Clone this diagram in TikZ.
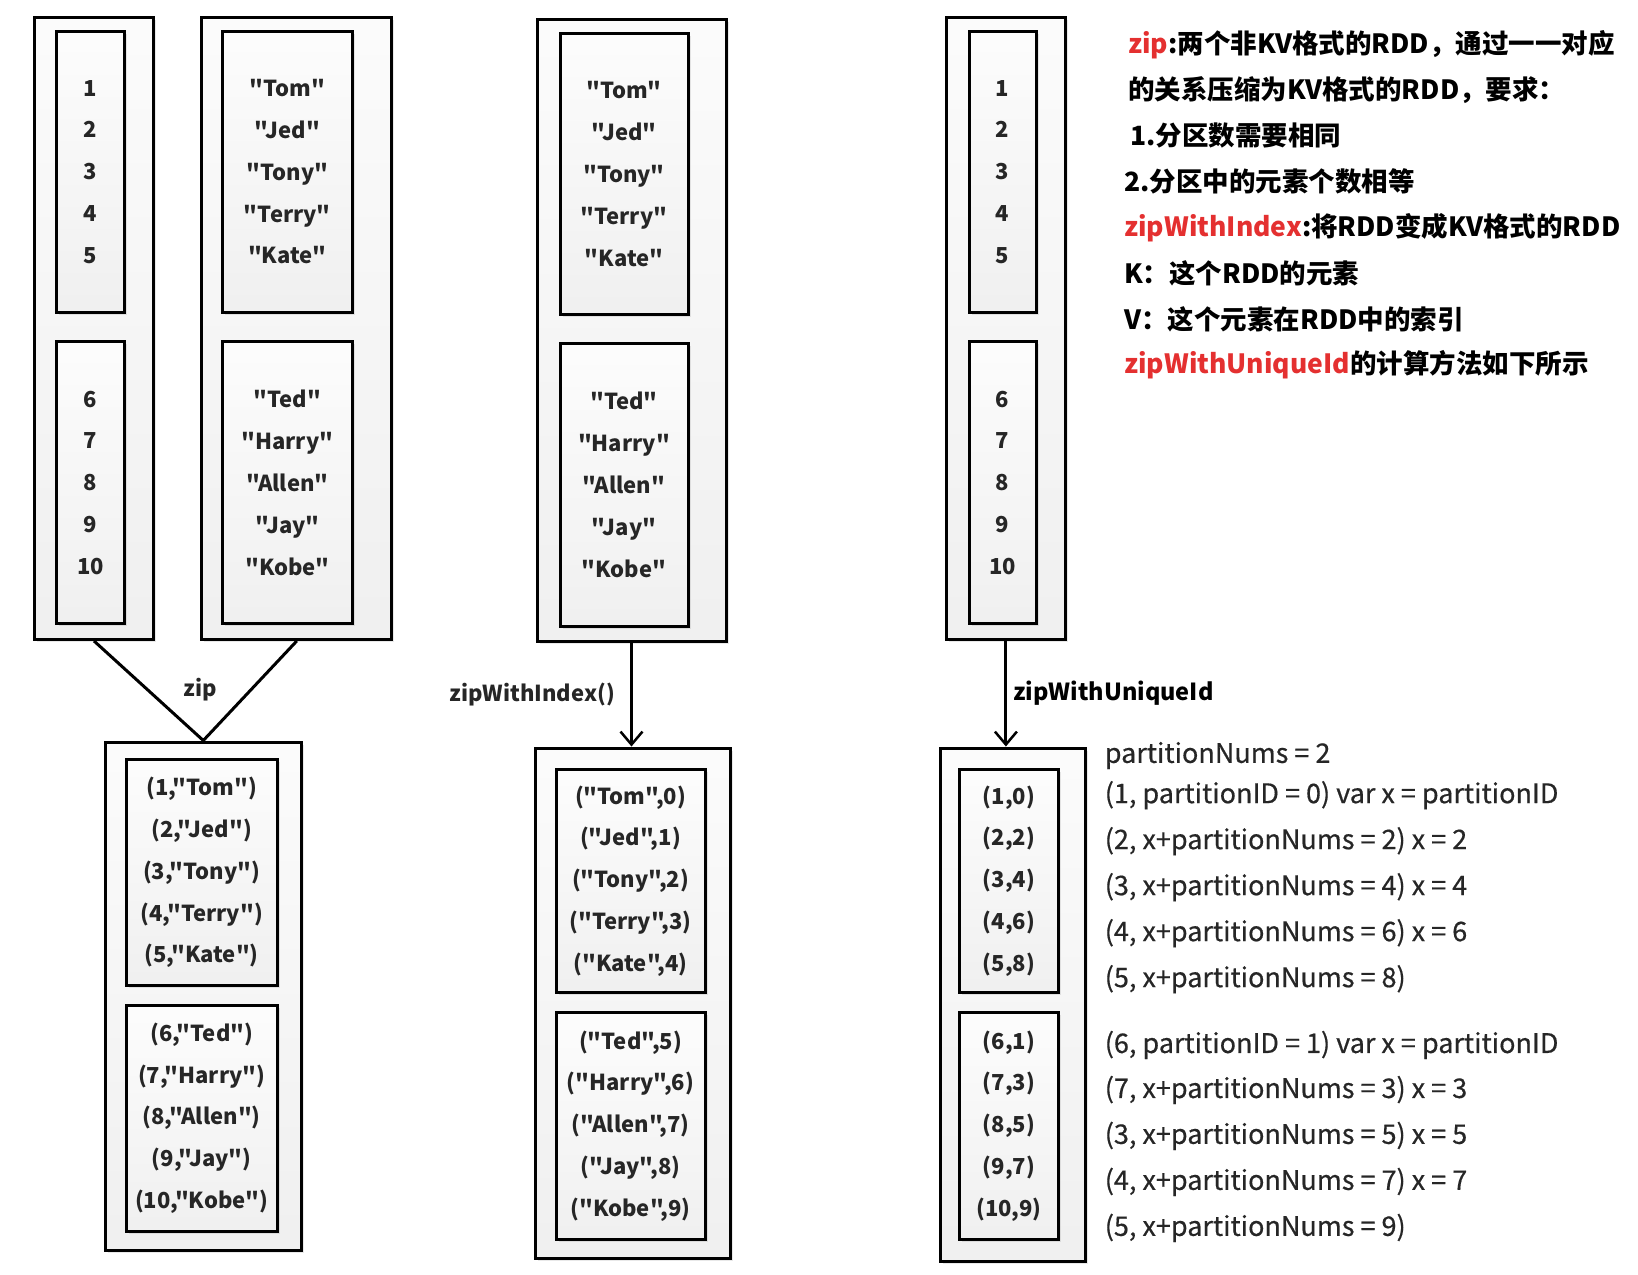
\documentclass[tikz,border=0pt]{standalone}
\usepackage{fontspec}
\newfontfamily\mainf{Noto Sans CJK SC}
\newfontfamily\partf{Noto Sans CJK SC}[FakeBold=0.5]
\usetikzlibrary{arrows.meta,shadows}
\definecolor{zipred}{RGB}{228,48,48}
\definecolor{txt}{RGB}{38,38,38}
\newcommand\boxfont{\mainf\fontsize{22}{41.8}\selectfont\bfseries}
\newcommand\labfont{\mainf\fontsize{22}{26}\selectfont\bfseries}
\newcommand\partfont{\partf\fontsize{27}{30}\selectfont}
\newcommand\notefont{\mainf\fontsize{26.5}{30}\selectfont\bfseries}
\tikzset{
  shad/.style={drop shadow={shadow xshift=2.5pt,shadow yshift=-2.5pt,opacity=0.18}},
  outerbox/.style={draw=black,line width=3pt,top color=gray!3,bottom color=gray!12,
    inner sep=0pt,shad},
  innerbox/.style={draw=black,line width=3pt,top color=gray!2,bottom color=gray!12,
    inner sep=0pt,align=center,font=\boxfont,text=txt,shad},
  conn/.style={line width=3pt,black},
  arr/.style={conn,-{Straight Barb[length=13pt,width=22pt,line width=2.5pt]}},
  lab/.style={font=\labfont,text=txt,inner sep=0pt},
  part/.style={font=\partfont,text=txt,anchor=west,inner sep=0pt},
  note/.style={font=\notefont,text=black,anchor=west,inner sep=0pt},
}
\begin{document}
\begin{tikzpicture}[x=1pt,y=-1pt]
\useasboundingbox (0,0) rectangle (1638,1274);
% ---------- column 1 : numbers ----------
\node[outerbox,minimum width=119pt,minimum height=621.7pt] (o1) at (94,328.6) {};
\node[innerbox,minimum width=68pt,minimum height=281.6pt] (i1a) at (90.5,171.8)
  {1\\2\\3\\4\\5};
\node[innerbox,minimum width=68pt,minimum height=282.2pt] (i1b) at (90.5,482.8)
  {6\\7\\8\\9\\10};
% ---------- column 2 : names ----------
\node[outerbox,minimum width=190.2pt,minimum height=621.7pt] (o2) at (296.8,328.6) {};
\node[innerbox,minimum width=129.6pt,minimum height=281.6pt] (i2a) at (287.4,171.8)
  {"Tom"\\"Jed"\\"Tony"\\"Terry"\\"Kate"};
\node[innerbox,minimum width=129.6pt,minimum height=282.2pt] (i2b) at (287.4,482.8)
  {"Ted"\\"Harry"\\"Allen"\\"Jay"\\"Kobe"};
% ---------- zip result ----------
\node[outerbox,minimum width=195.5pt,minimum height=508pt] (o3) at (203.3,996) {};
\node[innerbox,minimum width=150.6pt,minimum height=225.7pt] (i3a) at (201.7,872.5)
  {(1,"Tom")\\(2,"Jed")\\(3,"Tony")\\(4,"Terry")\\(5,"Kate")};
\node[innerbox,minimum width=150.6pt,minimum height=225.7pt] (i3b) at (201.7,1118.2)
  {(6,"Ted")\\(7,"Harry")\\(8,"Allen")\\(9,"Jay")\\(10,"Kobe")};
\draw[conn] (o1.south) -- (o3.north) -- (o2.south);
\node[lab] (zipl) at (200.6,689.7) {zip};
% ---------- middle column ----------
\node[outerbox,minimum width=189pt,minimum height=621.8pt] (o4) at (631.5,330.8) {};
\node[innerbox,minimum width=128pt,minimum height=281pt] (i4a) at (624,174)
  {"Tom"\\"Jed"\\"Tony"\\"Terry"\\"Kate"};
\node[innerbox,minimum width=128pt,minimum height=282.2pt] (i4b) at (624,484.9)
  {"Ted"\\"Harry"\\"Allen"\\"Jay"\\"Kobe"};
\node[outerbox,minimum width=195pt,minimum height=510pt] (o5) at (632.5,1003) {};
\node[innerbox,minimum width=149pt,minimum height=223.8pt] (i5a) at (630.5,880.9)
  {("Tom",0)\\("Jed",1)\\("Tony",2)\\("Terry",3)\\("Kate",4)};
\node[innerbox,minimum width=149pt,minimum height=226.8pt] (i5b) at (630.5,1126)
  {("Ted",5)\\("Harry",6)\\("Allen",7)\\("Jay",8)\\("Kobe",9)};
\draw[arr] (o4.south) -- (o4.south |- o5.north);
\node[lab,anchor=east] (zwil) at (615,695) {zipWithIndex()};
% ---------- right column ----------
\node[outerbox,minimum width=118.2pt,minimum height=621.7pt] (o6) at (1005.9,328.6) {};
\node[innerbox,minimum width=67pt,minimum height=281.6pt] (i6a) at (1002.5,171.8)
  {1\\2\\3\\4\\5};
\node[innerbox,minimum width=67pt,minimum height=282.2pt] (i6b) at (1002.5,482.8)
  {6\\7\\8\\9\\10};
\node[outerbox,minimum width=145pt,minimum height=513pt] (o7) at (1012.5,1004.5) {};
\node[innerbox,minimum width=99.3pt,minimum height=223.8pt] (i7a) at (1009,880.9)
  {(1,0)\\(2,2)\\(3,4)\\(4,6)\\(5,8)};
\node[innerbox,minimum width=99.3pt,minimum height=226.8pt] (i7b) at (1009,1126)
  {(6,1)\\(7,3)\\(8,5)\\(9,7)\\(10,9)};
\draw[arr] (o6.south) -- (o6.south |- o7.north);
\node[lab,anchor=west,font=\mainf\fontsize{23.5}{28}\selectfont\bfseries,text=black]
  (zwul) at (1013,693) {zipWithUniqueId};
% ---------- partition explanation ----------
\node[part] (p0) at (1104.6,755.5) {partitionNums = 2};
\node[part] (p1) at (1104.6,795.2) {(1, partitionID = 0) var x = partitionID};
\node[part] (p2) at (1104.6,841.2) {(2, x+partitionNums = 2) x = 2};
\node[part] (p3) at (1104.6,887.2) {(3, x+partitionNums = 4) x = 4};
\node[part] (p4) at (1104.6,933.2) {(4, x+partitionNums = 6) x = 6};
\node[part] (p5) at (1104.6,979.2) {(5, x+partitionNums = 8)};
\node[part] (p6) at (1104.6,1045) {(6, partitionID = 1) var x = partitionID};
\node[part] (p7) at (1104.6,1090) {(7, x+partitionNums = 3) x = 3};
\node[part] (p8) at (1104.6,1135.9) {(3, x+partitionNums = 5) x = 5};
\node[part] (p9) at (1104.6,1181.9) {(4, x+partitionNums = 7) x = 7};
\node[part] (p10) at (1104.6,1227.9) {(5, x+partitionNums = 9)};
% ---------- notes ----------
\node[note] (n1) at (1128,45) {\textcolor{zipred}{zip}:两个非KV格式的RDD，通过一一对应};
\node[note] (n2) at (1128,90) {的关系压缩为KV格式的RDD，要求：};
\node[note] (n3) at (1130,135.5) {1.分区数需要相同};
\node[note] (n4) at (1124,181.5) {2.分区中的元素个数相等};
\node[note] (n5) at (1124,227.5) {\textcolor{zipred}{zipWithIndex}:将RDD变成KV格式的RDD};
\node[note] (n6) at (1124,273.5) {K：这个RDD的元素};
\node[note] (n7) at (1124,319) {V：这个元素在RDD中的索引};
\node[note] (n8) at (1124,364.5) {\textcolor{zipred}{zipWithUniqueId}的计算方法如下所示};
\end{tikzpicture}
\end{document}
